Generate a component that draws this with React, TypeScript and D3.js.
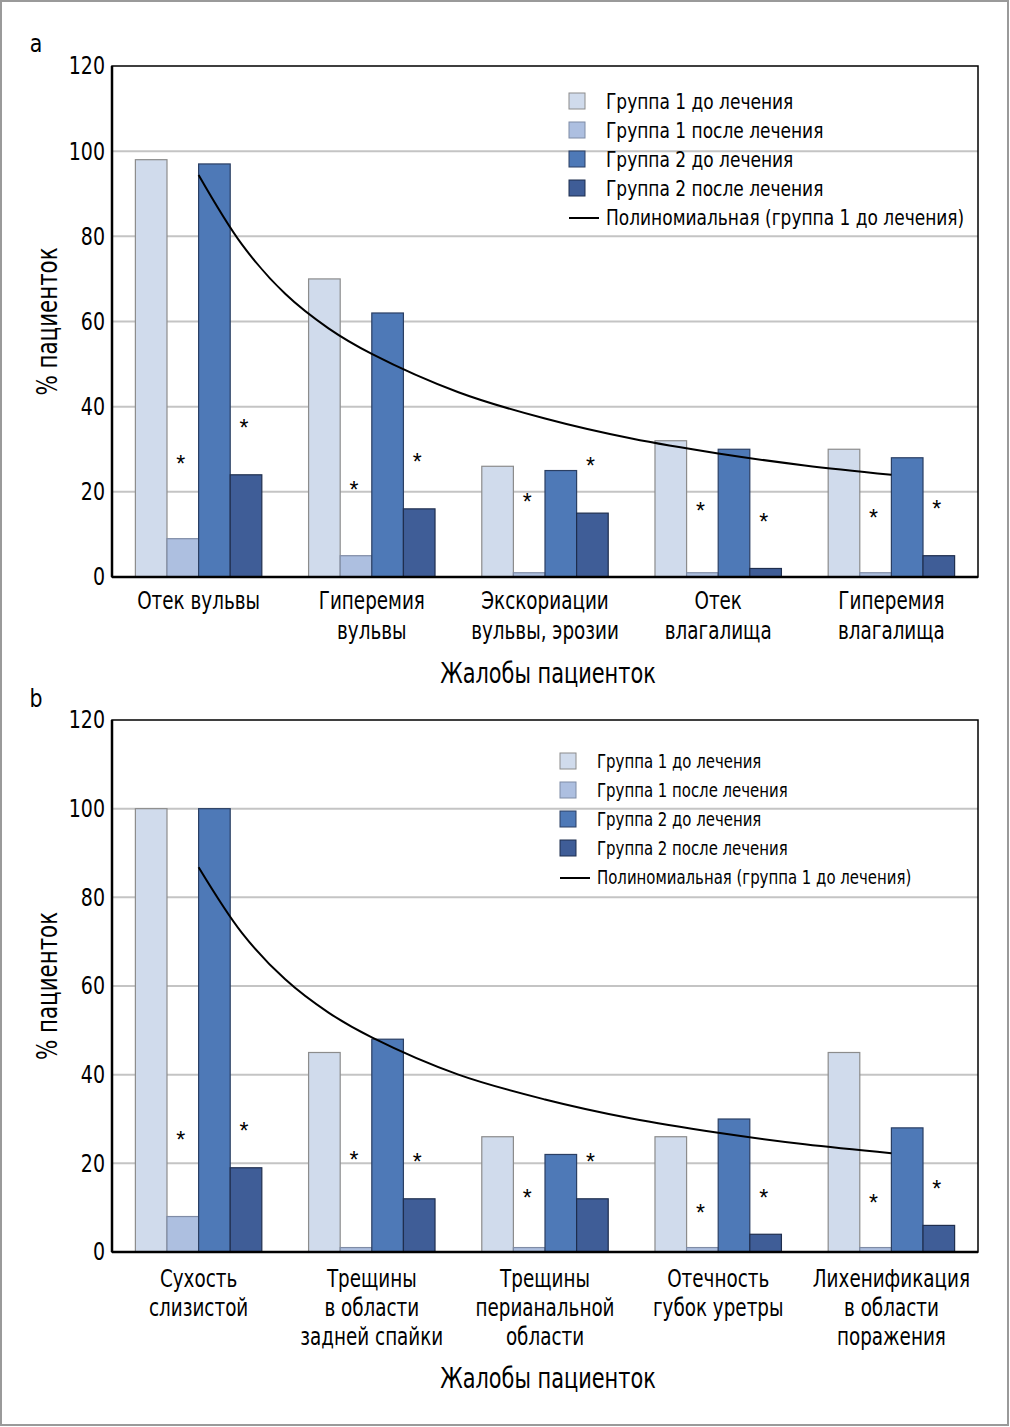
import React, { useEffect } from 'react'
import * as d3 from 'd3'

// legend / series
const seriesNames = [
    'Группа 1 до лечения',
    'Группа 1 после лечения',
    'Группа 2 до лечения',
    'Группа 2 после лечения',
]
const trendName = 'Полиномиальная (группа 1 до лечения)'
const seriesFill = ['#d0dbec', '#adbfe0', '#4e79b7', '#3f5d97']
const seriesStroke = ['#8c8c8c', '#7f8ca6', '#2b3f63', '#1f2e4e']
const yTicks = [0, 20, 40, 60, 80, 100, 120]
const xTitle = 'Жалобы пациенток'
const yTitle = '% пациенток'

// panel a
const catsA = [
    ['Отек вульвы'],
    ['Гиперемия', 'вульвы'],
    ['Экскориации', 'вульвы, эрозии'],
    ['Отек', 'влагалища'],
    ['Гиперемия', 'влагалища'],
]
const g1BeforeA = [98, 70, 26, 32, 30]
const g1AfterA = [9, 5, 1, 1, 1]
const g2BeforeA = [97, 62, 25, 30, 28]
const g2AfterA = [24, 16, 15, 2, 5]
const starG1A = [27, 21, 18, 16, 14.3]
const starG2A = [35.4, 27.5, 26.5, 13.4, 16.4]
const trendXA = [1, 1.25, 1.5, 1.75, 2, 2.5, 3, 3.5, 4, 4.5, 5]
const trendA = [94.4, 78.1, 66.5, 58.4, 52.4, 43.4, 37.2, 32.5, 29, 26.2, 24]

// panel b
const catsB = [
    ['Сухость', 'слизистой'],
    ['Трещины', 'в области', 'задней спайки'],
    ['Трещины', 'перианальной', 'области'],
    ['Отечность', 'губок уретры'],
    ['Лихенификация', 'в области', 'поражения'],
]
const g1BeforeB = [100, 45, 26, 26, 45]
const g1AfterB = [8, 1, 1, 1, 1]
const g2BeforeB = [100, 48, 22, 30, 28]
const g2AfterB = [19, 12, 12, 4, 6]
const starG1B = [25.7, 21.2, 12.6, 9.2, 11.5]
const starG2B = [27.7, 20.8, 20.8, 12.6, 14.7]
const trendXB = [1, 1.25, 1.5, 1.75, 2, 2.5, 3, 3.5, 4, 4.5, 5]
const trendB = [86.8, 72, 61.5, 54, 48.4, 40, 34.4, 30.1, 26.9, 24.3, 22.3]

const FONT = "'Liberation Sans Narrow', 'DejaVu Sans Condensed', 'Liberation Sans', sans-serif"

const W = 1010
const H = 1427
const left = 112
const right = 978

// narrow text: the source uses a condensed face, so squeeze horizontally
const T: React.FC<{
    x: number
    y: number
    size: number
    sx: number
    anchor?: string
    rotate?: number
    children: React.ReactNode
}> = ({ x, y, size, sx, anchor = 'start', rotate = 0, children }) => (
    <g transform={`translate(${x},${y}) rotate(${rotate}) scale(${sx},1)`}>
        <text x={0} y={0} fontSize={size} textAnchor={anchor} dominantBaseline="central">
            {children}
        </text>
    </g>
)

type PanelProps = {
    label: string
    top: number
    bottom: number
    cats: string[][]
    series: number[][]
    starsG1: number[]
    starsG2: number[]
    trendX: number[]
    trend: number[]
    legendX: number
    legendY: number
    legendFont: number
    legendSx: number
    catY: number
    catLineH: number
    titleY: number
    labelY: number
}

const Panel: React.FC<PanelProps> = (p) => {
    const y = d3.scaleLinear().domain([0, 120]).range([p.bottom, p.top])
    const x = d3
        .scaleBand<number>()
        .domain(p.cats.map((_, i) => i))
        .range([left, right])
        .paddingInner(0.27)
        .paddingOuter(0.135)
    const sub = d3
        .scaleBand<number>()
        .domain(p.series.map((_, i) => i))
        .range([0, x.bandwidth()])
    const center = (t: number) =>
        (x(0) as number) + x.bandwidth() / 2 + (t - 1) * x.step()
    const line = d3
        .line<number>()
        .x((_, i) => center(p.trendX[i]))
        .y((d) => y(d))
        .curve(d3.curveCatmullRom.alpha(0.5))

    const stars: { c: number; s: number; v: number }[] = []
    p.starsG1.forEach((v, c) => stars.push({ c, s: 1, v }))
    p.starsG2.forEach((v, c) => stars.push({ c, s: 3, v }))

    return (
        <g fontFamily={FONT}>
            <T x={36} y={p.labelY} size={24} sx={0.95} anchor="middle">
                {p.label}
            </T>
            {/* gridlines */}
            {yTicks.slice(1, -1).map((t) => (
                <line key={t} x1={left} x2={right} y1={y(t)} y2={y(t)} stroke="#c4c4c4" strokeWidth={2} />
            ))}
            {/* legend */}
            {seriesNames.map((n, i) => (
                <g key={n}>
                    <rect
                        x={p.legendX}
                        y={p.legendY + i * 29 - 8}
                        width={16}
                        height={16}
                        fill={seriesFill[i]}
                        stroke={seriesStroke[i]}
                        strokeWidth={1}
                    />
                    <T x={p.legendX + 37} y={p.legendY + i * 29} size={p.legendFont} sx={p.legendSx}>
                        {n}
                    </T>
                </g>
            ))}
            <line
                x1={p.legendX}
                x2={p.legendX + 30}
                y1={p.legendY + 4 * 29 + 1}
                y2={p.legendY + 4 * 29 + 1}
                stroke="#000"
                strokeWidth={2}
            />
            <T x={p.legendX + 37} y={p.legendY + 4 * 29} size={p.legendFont} sx={p.legendSx}>
                {trendName}
            </T>
            {/* bars */}
            {p.series.map((vals, s) =>
                vals.map((v, c) => (
                    <rect
                        key={`${s}-${c}`}
                        x={(x(c) as number) + (sub(s) as number)}
                        y={y(v)}
                        width={sub.bandwidth()}
                        height={p.bottom - y(v)}
                        fill={seriesFill[s]}
                        stroke={seriesStroke[s]}
                        strokeWidth={1.2}
                    />
                ))
            )}
            {/* significance marks */}
            {stars.map((d) => (
                <text
                    key={`st-${d.s}-${d.c}`}
                    x={(x(d.c) as number) + (sub(d.s) as number) + sub.bandwidth() / 2 - 2}
                    y={y(d.v) + 10}
                    fontSize={23}
                    fontFamily="'Liberation Sans', sans-serif"
                    textAnchor="middle"
                >
                    *
                </text>
            ))}
            {/* trend line */}
            <path d={line(p.trend) || ''} fill="none" stroke="#000" strokeWidth={2} />
            {/* frame */}
            <rect x={left} y={p.top} width={right - left} height={p.bottom - p.top} fill="none" stroke="#000" strokeWidth={1.5} />
            <line x1={left} x2={left} y1={p.top} y2={p.bottom} stroke="#000" strokeWidth={2.5} />
            <line x1={left} x2={right} y1={p.bottom} y2={p.bottom} stroke="#000" strokeWidth={2.5} />
            {/* y ticks */}
            {yTicks.map((t) => (
                <T key={t} x={105} y={y(t)} size={24} sx={0.88} anchor="end">
                    {t}
                </T>
            ))}
            {/* category labels */}
            {p.cats.map((lines, c) =>
                lines.map((l, k) => (
                    <T key={`${c}-${k}`} x={center(c + 1)} y={p.catY + k * p.catLineH} size={24} sx={0.85} anchor="middle">
                        {l}
                    </T>
                ))
            )}
            <T x={(left + right) / 2 + 3} y={p.titleY} size={29} sx={0.8} anchor="middle">
                {xTitle}
            </T>
            <T x={47} y={(p.top + p.bottom) / 2} size={29} sx={0.82} anchor="middle" rotate={-90}>
                {yTitle}
            </T>
        </g>
    )
}

export default function App() {
    useEffect(() => {
        document.body.style.margin = '0'
    }, [])
    return (
        <svg width={W} height={H} style={{ display: 'block', background: '#fff' }}>
            <rect x={1} y={1} width={W - 3} height={H - 3} fill="#fff" stroke="#9a9a9a" strokeWidth={2} />
            <Panel
                label="a"
                top={66}
                bottom={577}
                cats={catsA}
                series={[g1BeforeA, g1AfterA, g2BeforeA, g2AfterA]}
                starsG1={starG1A}
                starsG2={starG2A}
                trendX={trendXA}
                trend={trendA}
                legendX={569}
                legendY={101}
                legendFont={22}
                legendSx={0.86}
                catY={600}
                catLineH={30}
                titleY={673}
                labelY={44}
            />
            <Panel
                label="b"
                top={720}
                bottom={1252}
                cats={catsB}
                series={[g1BeforeB, g1AfterB, g2BeforeB, g2AfterB]}
                starsG1={starG1B}
                starsG2={starG2B}
                trendX={trendXB}
                trend={trendB}
                legendX={560}
                legendY={761}
                legendFont={20}
                legendSx={0.83}
                catY={1278}
                catLineH={29}
                titleY={1378}
                labelY={699}
            />
        </svg>
    )
}
